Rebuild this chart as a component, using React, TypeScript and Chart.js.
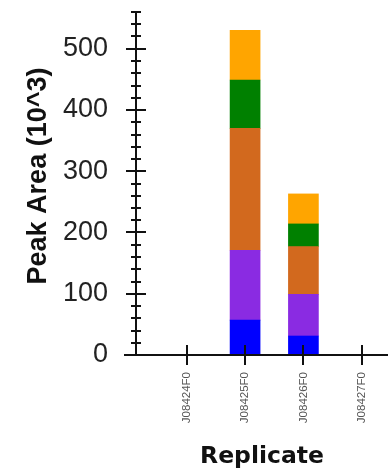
import React, { useEffect, useRef } from 'react';
import { Chart, registerables } from 'chart.js';

Chart.register(...registerables);

// Replicate names along the x axis
const replicates = ['J08424F0', 'J08425F0', 'J08426F0', 'J08427F0'];

// Peak areas (10^3) per transition, stacked bottom to top
const transitionA = [0, 57, 31, 0];
const transitionB = [0, 114, 68, 0];
const transitionC = [0, 199, 78, 0];
const transitionD = [0, 79, 37, 0];
const transitionE = [0, 81, 49, 0];

// Value axis range and tick spacing
const yMin = 0;
const yMax = 560;
const yMajorStep = 100;
const yMinorStep = 20;

const series = [
  { label: 'Transition A', values: transitionA, color: '#0000FF' },
  { label: 'Transition B', values: transitionB, color: '#8A2BE2' },
  { label: 'Transition C', values: transitionC, color: '#D2691E' },
  { label: 'Transition D', values: transitionD, color: '#008000' },
  { label: 'Transition E', values: transitionE, color: '#FFA500' },
];

// Axis lines with tick marks that cross the axis on both sides
const crossedAxes = {
  id: 'crossedAxes',
  afterDatasetsDraw(chart: any) {
    const { ctx, chartArea, scales } = chart;
    const xs = scales.x;
    const ys = scales.y;
    const x0 = Math.round(chartArea.left);
    const y0 = Math.round(ys.getPixelForValue(yMin));
    ctx.save();
    ctx.strokeStyle = '#111';
    ctx.lineWidth = 2;
    ctx.beginPath();
    ctx.moveTo(x0, Math.round(ys.getPixelForValue(yMax)));
    ctx.lineTo(x0, y0);
    ctx.moveTo(x0 - 12, y0);
    ctx.lineTo(chartArea.right, y0);
    for (let v = yMin + yMinorStep; v <= yMax; v += yMinorStep) {
      const py = Math.round(ys.getPixelForValue(v));
      const half = v % yMajorStep === 0 ? 10 : 5;
      ctx.moveTo(x0 - half, py);
      ctx.lineTo(x0 + half, py);
    }
    xs.ticks.forEach((t: any) => {
      const px = Math.round(xs.getPixelForValue(t.value));
      ctx.moveTo(px, y0 - 10);
      ctx.lineTo(px, y0 + 10);
    });
    ctx.stroke();
    ctx.restore();
  },
};

export default function App() {
  const canvasRef = useRef<HTMLCanvasElement | null>(null);

  useEffect(() => {
    const canvas = canvasRef.current;
    if (!canvas) return;

    const chart = new Chart(canvas, {
      type: 'bar',
      data: {
        datasets: series.map((s) => ({
          label: s.label,
          data: s.values.map((v, i) => ({ x: i, y: v })),
          backgroundColor: s.color,
          borderWidth: 0,
          barThickness: 30,
        })),
      },
      options: {
        responsive: false,
        animation: false,
        devicePixelRatio: 1,
        layout: { padding: { top: 12, left: 0, right: 0, bottom: 0 } },
        plugins: {
          legend: { display: false },
          tooltip: { enabled: false },
        },
        scales: {
          x: {
            type: 'linear',
            offset: false,
            stacked: true,
            min: -0.87,
            max: 3.45,
            grid: { display: false, drawTicks: false, offset: false },
            border: { display: false },
            ticks: {
              stepSize: 1,
              includeBounds: false,
              autoSkip: false,
              minRotation: 90,
              maxRotation: 90,
              padding: 17,
              color: '#555',
              font: { family: "'Liberation Sans', Arial, sans-serif", size: 11.5 },
              callback: (value: any) =>
                Number.isInteger(value) && replicates[value] !== undefined ? replicates[value] : '',
            },
            title: {
              display: true,
              text: 'Replicate',
              color: '#111',
              padding: { top: 0, bottom: 1 },
              font: { family: "'DejaVu Sans', sans-serif", size: 23.5, weight: 'bold' },
            },
            afterFit: (scale: any) => {
              scale.height = 117;
              scale.paddingLeft = 0;
              scale.paddingRight = 0;
            },
          },
          y: {
            type: 'linear',
            stacked: true,
            min: yMin,
            max: yMax,
            grid: { display: false, drawTicks: false },
            border: { display: false },
            ticks: {
              stepSize: yMajorStep,
              includeBounds: false,
              padding: 28,
              color: '#222',
              font: { family: "'Liberation Sans', Arial, sans-serif", size: 27 },
            },
            title: {
              display: true,
              text: '  Peak Area (10^3)',
              color: '#111',
              padding: { top: 22, bottom: 0 },
              font: { family: "'Liberation Sans', Arial, sans-serif", size: 27, weight: 'bold' },
            },
            afterFit: (scale: any) => {
              scale.width = 136;
              scale.paddingTop = 0;
              scale.paddingBottom = 0;
            },
          },
        },
      },
      plugins: [crossedAxes],
    });

    return () => chart.destroy();
  }, []);

  return (
    <div style={{ position: 'absolute', left: 0, top: 0, width: 388, height: 472, background: '#fff' }}>
      <canvas ref={canvasRef} width={388} height={472} />
    </div>
  );
}
